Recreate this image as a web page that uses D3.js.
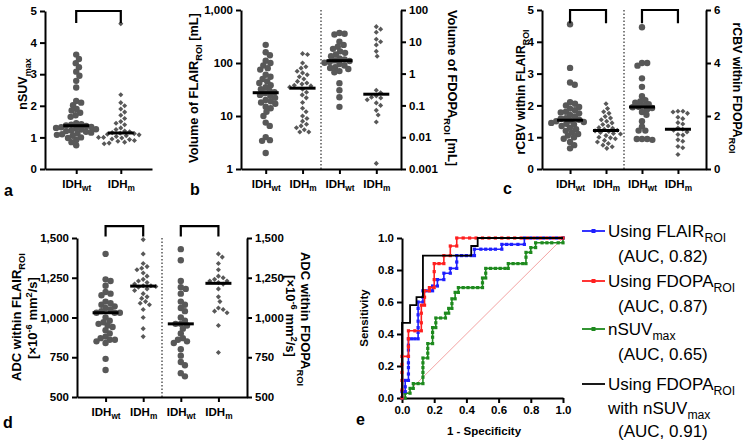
<!DOCTYPE html>
<html><head><meta charset="utf-8">
<script src="https://cdn.jsdelivr.net/npm/d3@7"></script>
<style>body{margin:0;background:#fff}text{font-family:"Liberation Sans",Arial,sans-serif}</style>
</head><body><script>
var width = 750, height = 443;
var svg = d3.select("body").append("svg").attr("width", width).attr("height", height);
var dotColor = "#585858";

// ---- data ----
var groups2 = ["IDHwt", "IDHm"];
var groups4 = ["flairWt", "flairM", "fdopaWt", "fdopaM"];
var groupSub = ["wt", "m", "wt", "m"];

var nsuvWt = [3.62,3.48,3.35,3.22,3.08,2.95,2.79,2.58,2.15,2.1,2.02,1.9,1.85,1.78,1.7,1.65,1.45,1.42,1.4,1.38,1.36,1.33,1.32,1.3,1.28,1.26,1.25,1.22,1.2,1.18,1.15,1.12,1.1,1.08,1.05,1.0,0.98,0.92,0.85,0.75];
var nsuvM = [4.6,2.35,2.1,2.0,1.9,1.8,1.7,1.6,1.5,1.45,1.4,1.3,1.25,1.2,1.18,1.15,1.13,1.12,1.1,1.08,1.05,1.03,1.0,1.0,0.98,0.95,0.93,0.9,0.88,0.85,0.82,0.8];

var volFlairWt = [220,160,140,110,100,90,80,75,60,55,50,45,42,38,35,32,30,28,27,25,24,22,20,19,18,17,15,14,12,10,7.5,6.5,4,3.5,3.4,2.0];
var volFlairM = [150,145,100,85,80,70,65,60,55,50,45,42,40,38,37,35,32,28,25,22,18,14,12,10,9,8,7,6.5,6,5.5,5,5];
var volFdopaWt = [19,18,17,10,8,7,6,5,4.5,4,3.5,3,2.8,2.6,2.5,2.3,2.2,2.0,1.8,1.6,1.5,1.4,1.2,1.1,0.5,0.3,0.18,0.09];
var volFdopaM = [30,25,20,12,10,8,5,3.5,0.3,0.25,0.2,0.18,0.17,0.15,0.12,0.1,0.07,0.05,0.03,0.0015];

var rcbvFlairWt = [4.55,3.18,2.72,2.65,2.1,2.05,2.0,1.95,1.9,1.85,1.8,1.78,1.75,1.7,1.65,1.6,1.58,1.55,1.52,1.5,1.48,1.45,1.42,1.4,1.35,1.3,1.25,1.2,1.15,1.1,1.05,1.0,0.95,0.85,0.75,0.65];
var rcbvFlairM = [2.05,1.9,1.8,1.75,1.65,1.6,1.55,1.5,1.45,1.4,1.35,1.3,1.28,1.25,1.22,1.2,1.18,1.15,1.12,1.1,1.05,1.0,0.98,0.95,0.9,0.85,0.8,0.75,0.7,0.65];
var rcbvFdopaWt = [5.35,4.0,4.0,3.9,3.42,3.1,2.75,2.6,2.55,2.5,2.45,2.4,2.35,2.33,2.3,2.25,2.15,2.05,1.8,1.6,1.45,1.45,1.13,1.13,1.13,1.1];
var rcbvFdopaM = [2.18,2.18,2.15,2.1,1.95,1.9,1.75,1.7,1.55,1.5,1.46,1.4,1.3,1.28,1.1,1.05,0.85,0.8,0.55];

var adcFlairWt = [1400,1240,1230,1200,1160,1150,1140,1100,1090,1080,1070,1060,1050,1040,1030,1030,1030,1000,980,970,960,950,940,920,900,880,870,860,860,850,840,740,670];
var adcFlairM = [1490,1400,1340,1320,1310,1300,1280,1260,1240,1230,1220,1210,1200,1200,1195,1190,1180,1170,1150,1130,1120,1100,1090,1080,1050,1000,930,880];
var adcFdopaWt = [1430,1360,1230,1190,1180,1150,1100,1080,1060,1040,1000,980,960,960,950,930,900,870,860,850,840,800,760,720,700,650,630];
var adcFdopaM = [1400,1380,1340,1300,1260,1250,1240,1230,1230,1220,1210,1180,1130,1100,1060,1050,1040,1030,950,780];

var rocFlair = [[0,0],[0,0.04],[0.02,0.04],[0.02,0.07],[0.02,0.11],[0.04,0.11],[0.04,0.15],[0.04,0.19],[0.04,0.22],[0.04,0.26],[0.04,0.3],[0.04,0.33],[0.04,0.37],[0.06,0.37],[0.08,0.37],[0.1,0.37],[0.1,0.41],[0.1,0.44],[0.1,0.48],[0.1,0.52],[0.1,0.56],[0.1,0.6],[0.13,0.6],[0.13,0.63],[0.13,0.67],[0.15,0.67],[0.17,0.67],[0.19,0.67],[0.19,0.7],[0.22,0.7],[0.22,0.74],[0.26,0.74],[0.26,0.78],[0.3,0.78],[0.3,0.81],[0.34,0.81],[0.34,0.85],[0.34,0.89],[0.37,0.89],[0.4,0.89],[0.43,0.89],[0.45,0.89],[0.45,0.93],[0.49,0.93],[0.52,0.93],[0.55,0.93],[0.58,0.93],[0.62,0.93],[0.62,0.96],[0.65,0.96],[0.68,0.96],[0.72,0.96],[0.76,0.96],[0.76,1],[0.8,1],[0.84,1],[0.88,1],[0.92,1],[0.96,1],[1,1]];
var rocFdopa = [[0,0],[0,0.05],[0,0.11],[0,0.16],[0,0.21],[0,0.26],[0.04,0.26],[0.04,0.32],[0.04,0.37],[0.04,0.42],[0.08,0.42],[0.12,0.42],[0.12,0.47],[0.12,0.53],[0.12,0.58],[0.14,0.58],[0.14,0.63],[0.14,0.67],[0.17,0.67],[0.17,0.69],[0.2,0.69],[0.2,0.74],[0.2,0.79],[0.2,0.84],[0.23,0.84],[0.26,0.84],[0.26,0.89],[0.3,0.89],[0.3,0.95],[0.34,0.95],[0.34,1],[0.38,1],[0.42,1],[0.46,1],[0.5,1],[0.54,1],[0.58,1],[0.62,1],[0.66,1],[0.7,1],[0.74,1],[0.78,1],[0.82,1],[0.86,1],[0.9,1],[0.94,1],[0.98,1],[1,1]];
var rocNsuv = [[0,0],[0.02,0],[0.02,0.03],[0.05,0.03],[0.05,0.06],[0.07,0.06],[0.07,0.09],[0.1,0.09],[0.13,0.09],[0.13,0.13],[0.13,0.16],[0.13,0.19],[0.13,0.22],[0.13,0.25],[0.16,0.25],[0.16,0.28],[0.16,0.31],[0.16,0.34],[0.19,0.34],[0.19,0.38],[0.19,0.41],[0.19,0.44],[0.21,0.44],[0.21,0.47],[0.21,0.5],[0.24,0.5],[0.27,0.5],[0.27,0.53],[0.29,0.53],[0.29,0.56],[0.31,0.56],[0.31,0.59],[0.31,0.62],[0.33,0.62],[0.33,0.66],[0.35,0.66],[0.35,0.69],[0.38,0.69],[0.41,0.69],[0.44,0.69],[0.47,0.69],[0.5,0.69],[0.5,0.72],[0.5,0.75],[0.52,0.75],[0.52,0.78],[0.52,0.81],[0.55,0.81],[0.58,0.81],[0.61,0.81],[0.64,0.81],[0.66,0.81],[0.66,0.84],[0.69,0.84],[0.72,0.84],[0.75,0.84],[0.77,0.84],[0.77,0.88],[0.77,0.91],[0.8,0.91],[0.8,0.94],[0.83,0.94],[0.83,0.97],[0.87,0.97],[0.9,0.97],[0.93,0.97],[0.97,0.97],[1,0.97],[1,1]];
var rocCombined = [[0,0],[0,0.47],[0.05,0.47],[0.05,0.58],[0.09,0.58],[0.09,0.63],[0.13,0.63],[0.13,0.89],[0.43,0.89],[0.43,0.95],[0.47,0.95],[0.47,1],[1,1]];
var rocColors = ["#1f1fff", "#ff1f1f", "#1e8a1e", "#000"];
var rocLegend = [
  [[["Using FLAIR"],["ROI","sub"]], [["(AUC, 0.82)"]]],
  [[["Using FDOPA"],["ROI","sub"]], [["(AUC, 0.87)"]]],
  [[["nSUV"],["max","sub"]], [["(AUC, 0.65)"]]],
  [[["Using FDOPA"],["ROI","sub"]], [["with nSUV"],["max","sub"]], [["(AUC, 0.91)"]]]
];

// ---- helpers ----
function rich(text, parts, fs) {
  var shift = 0;
  parts.forEach(function(p) {
    var target = p[1] === "sub" ? fs * 0.3 : p[1] === "sup" ? -fs * 0.4 : 0;
    var ts = text.append("tspan").attr("font-size", p[1] ? fs * 0.72 : fs).text(p[0]);
    if (target - shift !== 0) ts.attr("dy", target - shift);
    shift = target;
  });
}

function label(x, y, rot, parts, fs, anchor) {
  var t = svg.append("text").attr("transform", "translate(" + x + "," + y + ") rotate(" + rot + ")")
    .attr("text-anchor", anchor || "middle").attr("font-weight", "bold").attr("font-size", fs).attr("fill", "#000");
  rich(t, parts, fs);
  return t;
}

function styleAxis(a, fs) {
  a.select(".domain").attr("stroke-width", 2).attr("stroke", "#000");
  a.selectAll(".tick line").attr("stroke-width", 2).attr("stroke", "#000");
  a.selectAll(".tick text").attr("font-size", fs).attr("font-weight", "bold").attr("fill", "#000")
    .attr("font-family", "Liberation Sans, Arial, sans-serif");
}

function swarm(vals, y, cx, r) {
  var pts = vals.map(function(v) { return {v: v, y: y(v)}; }).sort(function(a, b) { return a.y - b.y; });
  var placed = [];
  pts.forEach(function(p) {
    var cands = [0];
    placed.forEach(function(q) {
      var dy = Math.abs(q.y - p.y);
      if (dy < 2 * r) { var dx = Math.sqrt(4 * r * r - dy * dy); cands.push(q.dx + dx, q.dx - dx); }
    });
    cands.sort(function(a, b) { return Math.abs(a) - Math.abs(b); });
    for (var i = 0; i < cands.length; i++) {
      var c = cands[i];
      if (placed.every(function(q) { return (q.dx - c) * (q.dx - c) + (q.y - p.y) * (q.y - p.y) >= 4 * r * r - 0.01; })) { p.dx = c; break; }
    }
    placed.push(p);
  });
  return placed.map(function(p) { return {x: cx + p.dx, y: p.y}; });
}

function drawDots(vals, y, cx, shape) {
  var g = svg.append("g");
  if (shape === "circle") {
    g.selectAll(null).data(swarm(vals, y, cx, 2.6)).enter().append("circle")
      .attr("cx", function(d) { return d.x; }).attr("cy", function(d) { return d.y; })
      .attr("r", 3.2).attr("fill", dotColor);
  } else {
    g.selectAll(null).data(swarm(vals, y, cx, 2.5)).enter().append("path")
      .attr("d", d3.symbol().type(d3.symbolSquare).size(13))
      .attr("transform", function(d) { return "translate(" + d.x + "," + d.y + ") rotate(45)"; })
      .attr("fill", dotColor);
  }
  var m = y(d3.median(vals));
  g.append("line").attr("x1", cx - 13).attr("x2", cx + 13).attr("y1", m).attr("y2", m)
    .attr("stroke", "#000").attr("stroke-width", 3);
}

function xAxisIDH(x, yPos, subs) {
  var a = svg.append("g").attr("transform", "translate(0," + yPos + ")")
    .call(d3.axisBottom(x).tickSize(5).tickSizeOuter(0).tickFormat(function() { return ""; }));
  styleAxis(a, 11.5);
  a.selectAll(".tick text").each(function(d, i) {
    var t = d3.select(this).text("").attr("dy", null).attr("y", 19);
    rich(t, [["IDH"], [subs[i], "sub"]], 11.5);
  });
  return a;
}

function bracket(x1, x2, yTop, yBot) {
  svg.append("path").attr("d", "M" + x1 + "," + yBot + "V" + yTop + "H" + x2 + "V" + yBot)
    .attr("fill", "none").attr("stroke", "#000").attr("stroke-width", 2.2);
}

function divider(x, y0, y1) {
  svg.append("line").attr("x1", x).attr("x2", x).attr("y1", y0).attr("y2", y1)
    .attr("stroke", "#000").attr("stroke-width", 1).attr("stroke-dasharray", "1.5,2");
}

// ---- panel a ----
var xa = d3.scalePoint().domain(groups2).range([45, 152]).padding(0.7);
var ya = d3.scaleLinear().domain([0, 5]).range([169, 11]);
styleAxis(svg.append("g").attr("transform", "translate(45,0)").call(d3.axisLeft(ya).ticks(5).tickSize(5).tickSizeOuter(0)), 11.5);
xAxisIDH(xa, 169, ["wt", "m"]);
drawDots(nsuvWt, ya, xa("IDHwt"), "circle");
drawDots(nsuvM, ya, xa("IDHm"), "diamond");
bracket(xa("IDHwt"), xa("IDHm"), ya(5), ya(4.62));
label(27, 84, -90, [["nSUV"], ["max", "sub"]], 12.5);
label(4, 196, 0, [["a"]], 16, "start");

// ---- panel b ----
var xb = d3.scalePoint().domain(groups4).range([241, 401]).padding(0.67);
var yb = d3.scaleLog().domain([1, 1000]).range([169, 10]);
var yb2 = d3.scaleLog().domain([0.001, 100]).range([169, 10]);
styleAxis(svg.append("g").attr("transform", "translate(241,0)").call(d3.axisLeft(yb).tickValues([1, 10, 100, 1000]).tickFormat(d3.format(",")).tickSize(5).tickSizeOuter(0)), 11.5);
styleAxis(svg.append("g").attr("transform", "translate(401,0)").call(d3.axisRight(yb2).tickValues([0.001, 0.01, 0.1, 1, 10, 100]).tickFormat(function(d) { return String(d); }).tickSize(5).tickSizeOuter(0)), 11.5);
xAxisIDH(xb, 169, groupSub);
divider((xb("flairM") + xb("fdopaWt")) / 2, 169, 10);
drawDots(volFlairWt, yb, xb("flairWt"), "circle");
drawDots(volFlairM, yb, xb("flairM"), "diamond");
drawDots(volFdopaWt, yb2, xb("fdopaWt"), "circle");
drawDots(volFdopaM, yb2, xb("fdopaM"), "diamond");
label(198, 88, -90, [["Volume of FLAIR"], ["ROI", "sub"], [" [mL]"]], 12.8);
label(448, 88, 90, [["Volume of FDOPA"], ["ROI", "sub"], [" [mL]"]], 12.8);
label(190, 195, 0, [["b"]], 16, "start");

// ---- panel c ----
var xc = d3.scalePoint().domain(groups4).range([542, 706]).padding(0.78);
var yc = d3.scaleLinear().domain([0, 5]).range([169, 10]);
var yc2 = d3.scaleLinear().domain([0, 6]).range([169, 10]);
styleAxis(svg.append("g").attr("transform", "translate(542,0)").call(d3.axisLeft(yc).ticks(5).tickSize(5).tickSizeOuter(0)), 11.5);
styleAxis(svg.append("g").attr("transform", "translate(706,0)").call(d3.axisRight(yc2).tickValues([0, 2, 4, 6]).tickFormat(d3.format("d")).tickSize(5).tickSizeOuter(0)), 11.5);
xAxisIDH(xc, 169, groupSub);
divider((xc("flairM") + xc("fdopaWt")) / 2, 169, 10);
drawDots(rcbvFlairWt, yc, xc("flairWt"), "circle");
drawDots(rcbvFlairM, yc, xc("flairM"), "diamond");
drawDots(rcbvFdopaWt, yc2, xc("fdopaWt"), "circle");
drawDots(rcbvFdopaM, yc2, xc("fdopaM"), "diamond");
bracket(xc("flairWt"), xc("flairM"), yc(5), yc(4.58));
bracket(xc("fdopaWt"), xc("fdopaM"), yc(5), yc(4.58));
label(525, 92, -90, [["rCBV within FLAIR"], ["ROI", "sub"]], 12.3);
label(733, 88, 90, [["rCBV within FDOPA"], ["ROI", "sub"]], 12.3);
label(503, 194, 0, [["c"]], 16, "start");

// ---- panel d ----
var xd = d3.scalePoint().domain(groups4).range([77, 247]).padding(0.76);
var yd = d3.scaleLinear().domain([500, 1500]).range([397, 238]);
styleAxis(svg.append("g").attr("transform", "translate(77,0)").call(d3.axisLeft(yd).tickValues([500, 750, 1000, 1250, 1500]).tickFormat(d3.format(",")).tickSize(5).tickSizeOuter(0)), 11.5);
styleAxis(svg.append("g").attr("transform", "translate(247,0)").call(d3.axisRight(yd).tickValues([500, 750, 1000, 1250, 1500]).tickFormat(d3.format(",")).tickSize(5).tickSizeOuter(0)), 11.5);
xAxisIDH(xd, 397, groupSub);
divider((xd("flairM") + xd("fdopaWt")) / 2, 397, 238);
drawDots(adcFlairWt, yd, xd("flairWt"), "circle");
drawDots(adcFlairM, yd, xd("flairM"), "diamond");
drawDots(adcFdopaWt, yd, xd("fdopaWt"), "circle");
drawDots(adcFdopaM, yd, xd("fdopaM"), "diamond");
bracket(xd("flairWt"), xd("flairM"), yd(1575), yd(1510));
bracket(xd("fdopaWt"), xd("fdopaM"), yd(1575), yd(1510));
var unitParts = [["[×10"], ["-6", "sup"], [" mm"], ["2", "sup"], ["/s]"]];
label(21, 317, -90, [["ADC within FLAIR"], ["ROI", "sub"]], 13);
label(37, 318, -90, unitParts, 13);
label(301, 319, 90, [["ADC within FDOPA"], ["ROI", "sub"]], 13);
label(286, 316, 90, unitParts, 13);
label(3, 428, 0, [["d"]], 16, "start");

// ---- panel e ----
var xe = d3.scaleLinear().domain([0, 1]).range([402, 563]);
var ye = d3.scaleLinear().domain([0, 1]).range([398, 238]);
var eTicks = [0, 0.2, 0.4, 0.6, 0.8, 1];
styleAxis(svg.append("g").attr("transform", "translate(402,0)").call(d3.axisLeft(ye).tickValues(eTicks).tickFormat(d3.format(".1f")).tickSize(5).tickSizeOuter(0)), 11.5);
styleAxis(svg.append("g").attr("transform", "translate(0,398)").call(d3.axisBottom(xe).tickValues(eTicks).tickFormat(d3.format(".1f")).tickSize(5).tickSizeOuter(0)), 11.5);
svg.append("line").attr("x1", xe(0)).attr("y1", ye(0)).attr("x2", xe(1)).attr("y2", ye(1))
  .attr("stroke", "#f3a3a3").attr("stroke-width", 1);
var rocLine = d3.line().x(function(d) { return xe(d[0]); }).y(function(d) { return ye(d[1]); });
[rocNsuv, rocFlair, rocFdopa].forEach(function(data) {
  var col = rocColors[[rocFlair, rocFdopa, rocNsuv].indexOf(data)];
  svg.append("path").datum(data).attr("d", rocLine).attr("fill", "none").attr("stroke", col).attr("stroke-width", 1.6);
  svg.append("g").selectAll("rect").data(data).enter().append("rect")
    .attr("x", function(d) { return xe(d[0]) - 1.6; }).attr("y", function(d) { return ye(d[1]) - 1.6; })
    .attr("width", 3.2).attr("height", 3.2).attr("fill", col);
});
svg.append("path").datum(rocCombined).attr("d", rocLine).attr("fill", "none").attr("stroke", "#000").attr("stroke-width", 1.8);
label(368, 318, -90, [["Sensitivity"]], 11.5);
label(484, 435, 0, [["1 - Specificity"]], 11.5);
label(356, 425, 0, [["e"]], 16, "start");

// legend
var legTop = [237, 287, 335, 390];
var lineGap = [25, 25, 25, 23.5];
rocLegend.forEach(function(entry, i) {
  var yy = legTop[i] - 6;
  svg.append("line").attr("x1", 582).attr("x2", 605).attr("y1", yy).attr("y2", yy)
    .attr("stroke", rocColors[i]).attr("stroke-width", 1.8);
  if (i < 3) svg.append("rect").attr("x", 591.5).attr("y", yy - 2).attr("width", 4).attr("height", 4).attr("fill", rocColors[i]);
  entry.forEach(function(parts, j) {
    var isAuc = j === entry.length - 1;
    var t = svg.append("text").attr("x", isAuc ? 618 : 608).attr("y", legTop[i] + j * lineGap[i])
      .attr("font-size", 17).attr("fill", "#000");
    rich(t, parts, 17);
  });
});
</script></body></html>
